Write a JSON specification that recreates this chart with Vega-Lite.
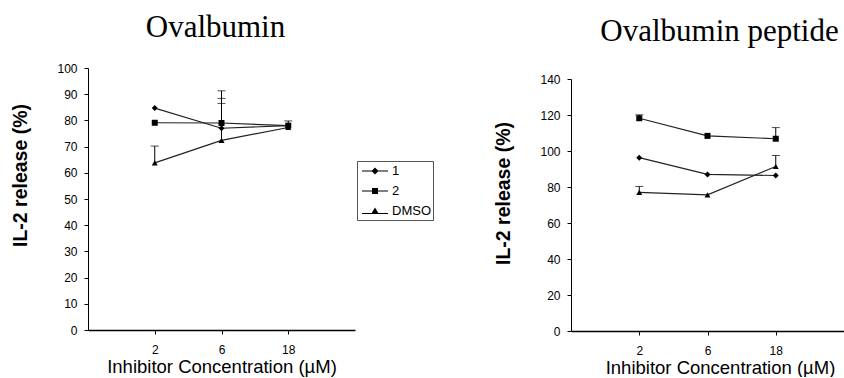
{
  "$schema": "https://vega.github.io/schema/vega-lite/v6.json",
  "padding": {"left": 10, "top": 12, "right": 0, "bottom": 0},
  "background": "white",
  "config": {
    "view": {"stroke": null},
    "font": "Liberation Sans",
    "axis": {
      "grid": false,
      "domainColor": "#000",
      "domainWidth": 1,
      "tickColor": "#000",
      "tickSize": 4,
      "labelFont": "Liberation Sans",
      "labelFontSize": 12,
      "labelColor": "#000",
      "labelOverlap": false,
      "titleFont": "Liberation Sans",
      "titleColor": "#000"
    },
    "title": {"font": "Liberation Serif", "fontSize": 31, "fontWeight": "normal", "color": "#000"}
  },
  "datasets": {
    "ova": [
      {"series": "1", "conc": "2", "value": 84.7, "upper": null},
      {"series": "1", "conc": "6", "value": 77, "upper": 91.3},
      {"series": "1", "conc": "18", "value": 78, "upper": null},
      {"series": "2", "conc": "2", "value": 79.1, "upper": null},
      {"series": "2", "conc": "6", "value": 79, "upper": 88.4},
      {"series": "2", "conc": "18", "value": 78, "upper": 79.8},
      {"series": "DMSO", "conc": "2", "value": 63.8, "upper": 70.2},
      {"series": "DMSO", "conc": "6", "value": 72.4, "upper": 86.5},
      {"series": "DMSO", "conc": "18", "value": 77.3, "upper": null}
    ],
    "pep": [
      {"series": "1", "conc": "2", "value": 96.3, "upper": null},
      {"series": "1", "conc": "6", "value": 87, "upper": null},
      {"series": "1", "conc": "18", "value": 86.4, "upper": null},
      {"series": "2", "conc": "2", "value": 118.2, "upper": 120.1},
      {"series": "2", "conc": "6", "value": 108.4, "upper": null},
      {"series": "2", "conc": "18", "value": 106.8, "upper": 113},
      {"series": "DMSO", "conc": "2", "value": 77, "upper": 80.3},
      {"series": "DMSO", "conc": "6", "value": 75.6, "upper": null},
      {"series": "DMSO", "conc": "18", "value": 91.4, "upper": 97.5}
    ]
  },
  "spacing": 59,
  "resolve": {"scale": {"shape": "independent"}, "legend": {"shape": "independent"}},
  "hconcat": [
    {
      "width": 267,
      "height": 262,
      "title": {"text": "Ovalbumin", "dx": -6, "offset": 18},
      "data": {"name": "ova"},
      "encoding": {
        "x": {
          "field": "conc", "type": "ordinal", "sort": ["2", "6", "18"],
          "scale": {"type": "point", "padding": 1},
          "axis": {"title": "Inhibitor Concentration (µM)", "labelAngle": 0, "labelPadding": 10, "titleFontSize": 18.5, "titleFontWeight": "normal", "titlePadding": 2, "domainWidth": 1.5}
        },
        "y": {
          "field": "value", "type": "quantitative",
          "scale": {"domain": [0, 100], "nice": false},
          "axis": {"values": [0, 10, 20, 30, 40, 50, 60, 70, 80, 90, 100], "title": "IL-2 release (%)", "titleFontSize": 19.5, "titleFontWeight": "bold", "labelPadding": 7, "titlePadding": 26, "titleY": 107}
        }
      },
      "resolve": {"scale": {"shape": "independent"}},
      "layer": [
        {
          "mark": {"type": "rule", "color": "#000", "strokeWidth": 1},
          "encoding": {"y2": {"field": "upper"}}
        },
        {
          "mark": {"type": "tick", "orient": "horizontal", "color": "#000", "size": 8, "thickness": 1},
          "encoding": {
            "y": {
              "field": "upper", "type": "quantitative",
              "scale": {"domain": [0, 100], "nice": false},
              "axis": {"values": [0, 10, 20, 30, 40, 50, 60, 70, 80, 90, 100], "title": "IL-2 release (%)", "titleFontSize": 19.5, "titleFontWeight": "bold", "labelPadding": 7, "titlePadding": 26, "titleY": 107}
            }
          }
        },
        {
          "mark": {"type": "line", "color": "#222", "strokeWidth": 1.2},
          "encoding": {"detail": {"field": "series"}}
        },
        {
          "mark": {"type": "point", "filled": true, "color": "#000", "opacity": 1, "size": 36},
          "encoding": {
            "shape": {
              "field": "series", "type": "nominal",
              "scale": {"domain": ["1", "2", "DMSO"], "range": ["diamond", "square", "triangle-up"]},
              "legend": null
            }
          }
        },
        {
          "mark": {"type": "point", "filled": true, "fill": "#000", "opacity": 0, "size": 256},
          "encoding": {
            "shape": {
              "field": "series", "type": "nominal",
              "scale": {"domain": ["1", "2", "DMSO"], "range": ["M-0.625,-0.07H2.625V0.07H-0.625ZM1,-0.44L1.44,0L1,0.44L0.56,0Z", "M-0.625,-0.07H2.625V0.07H-0.625ZM0.625,-0.375H1.375V0.375H0.625Z", "M-0.625,0.24H2.625V0.36H-0.625ZM1,-0.45L1.45,0.3L0.55,0.3Z"]},
              "legend": {
                "title": null,
                "orient": "none",
                "legendX": 269,
                "legendY": 93,
                "strokeColor": "#555",
                "padding": 2,
                "fillColor": "white",
                "labelFontSize": 13,
                "labelColor": "#000",
                "labelOffset": 17,
                "rowPadding": 5,
                "symbolSize": 256,
                "symbolOpacity": 1,
                "symbolFillColor": "#000",
                "symbolStrokeColor": "transparent",
                "symbolStrokeWidth": 0
              }
            }
          }
        }
      ]
    },
    {
      "width": 273,
      "height": 263,
      "title": {"text": "Ovalbumin peptide", "dx": 12, "offset": 20},
      "data": {"name": "pep"},
      "encoding": {
        "x": {
          "field": "conc", "type": "ordinal", "sort": ["2", "6", "18"],
          "scale": {"type": "point", "padding": 1},
          "axis": {"title": "Inhibitor Concentration (µM)", "labelAngle": 0, "labelPadding": 10, "titleFontSize": 18.5, "titleFontWeight": "normal", "titlePadding": 2, "titleX": 149, "domainWidth": 1.5}
        },
        "y": {
          "field": "value", "type": "quantitative",
          "scale": {"domain": [0, 140], "nice": false, "range": [263, 11]},
          "axis": {"values": [0, 20, 40, 60, 80, 100, 120, 140], "title": "IL-2 release (%)", "titleFontSize": 19.5, "titleFontWeight": "bold", "labelPadding": 7, "titlePadding": 26, "titleY": 125}
        }
      },
      "layer": [
        {
          "mark": {"type": "rule", "color": "#000", "strokeWidth": 1},
          "encoding": {"y2": {"field": "upper"}}
        },
        {
          "mark": {"type": "tick", "orient": "horizontal", "color": "#000", "size": 8, "thickness": 1},
          "encoding": {
            "y": {
              "field": "upper", "type": "quantitative",
              "scale": {"domain": [0, 140], "nice": false, "range": [263, 11]},
              "axis": {"values": [0, 20, 40, 60, 80, 100, 120, 140], "title": "IL-2 release (%)", "titleFontSize": 19.5, "titleFontWeight": "bold", "labelPadding": 7, "titlePadding": 26, "titleY": 125}
            }
          }
        },
        {
          "mark": {"type": "line", "color": "#222", "strokeWidth": 1.2},
          "encoding": {"detail": {"field": "series"}}
        },
        {
          "mark": {"type": "point", "filled": true, "color": "#000", "opacity": 1, "size": 36},
          "encoding": {
            "shape": {
              "field": "series", "type": "nominal",
              "scale": {"domain": ["1", "2", "DMSO"], "range": ["diamond", "square", "triangle-up"]},
              "legend": null
            }
          }
        }
      ]
    }
  ]
}
